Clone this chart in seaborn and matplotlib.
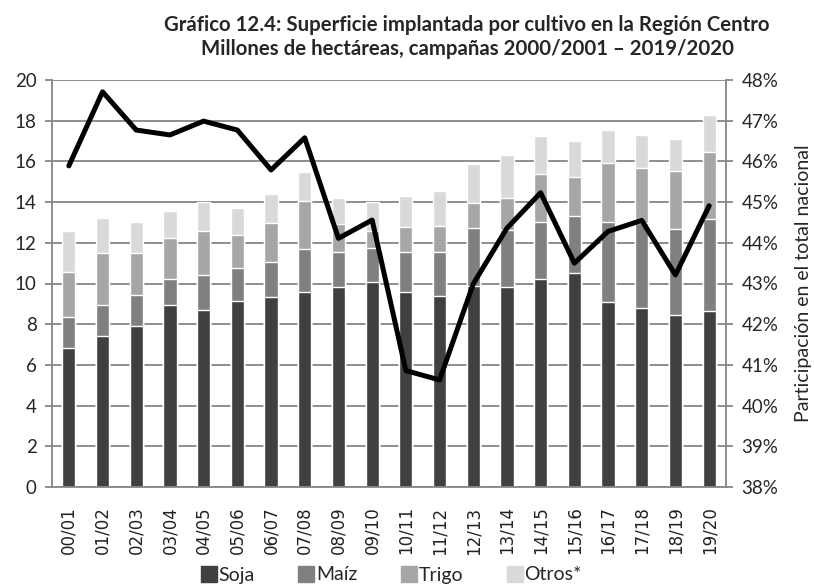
import numpy as np
import pandas as pd
import matplotlib
matplotlib.use("Agg")
import matplotlib.pyplot as plt
import seaborn as sns
from matplotlib.lines import Line2D
from matplotlib.ticker import FixedLocator, FuncFormatter

# campañas y superficie (millones de ha) por cultivo
campanas = ["00/01", "01/02", "02/03", "03/04", "04/05", "05/06", "06/07", "07/08", "08/09", "09/10",
            "10/11", "11/12", "12/13", "13/14", "14/15", "15/16", "16/17", "17/18", "18/19", "19/20"]
soja = [6.84, 7.44, 7.93, 8.92, 8.72, 9.16, 9.36, 9.60, 9.85, 10.09,
        9.60, 9.41, 9.88, 9.82, 10.21, 10.50, 9.11, 8.79, 8.46, 8.67]
maiz = [1.49, 1.48, 1.49, 1.32, 1.72, 1.62, 1.72, 2.11, 1.70, 1.67,
        1.94, 2.16, 2.87, 2.81, 2.80, 2.83, 3.93, 4.17, 4.21, 4.52]
trigo = [2.24, 2.60, 2.10, 2.00, 2.13, 1.61, 1.91, 2.33, 1.35, 0.84,
         1.26, 1.26, 1.19, 1.56, 2.37, 1.92, 2.90, 2.73, 2.87, 3.26]
otros = [2.01, 1.68, 1.50, 1.32, 1.43, 1.32, 1.41, 1.46, 1.30, 1.42,
         1.50, 1.72, 1.95, 2.12, 1.85, 1.74, 1.62, 1.59, 1.56, 1.83]
# participación en el total nacional (%)
participacion = [45.89, 47.71, 46.77, 46.65, 46.99, 46.77, 45.79, 46.58, 44.11, 44.56,
                 40.86, 40.63, 42.99, 44.36, 45.23, 43.50, 44.28, 44.55, 43.21, 44.91]

series = ["Soja", "Maíz", "Trigo", "Otros*"]
colores = ["#404040", "#808080", "#a6a6a6", "#d9d9d9"]

df = pd.DataFrame({"Campaña": campanas, "Soja": soja, "Maíz": maiz, "Trigo": trigo, "Otros*": otros})
acum = df[series].cumsum(axis=1)

sns.set_style("white")
plt.rcParams["font.family"] = ["Lato", "DejaVu Sans"]
gris = "#868686"

fig = plt.figure(figsize=(8.14, 5.84), dpi=100)
ax = fig.add_axes([52 / 814, 1 - 487 / 584, (726 - 52) / 814, (487 - 80) / 584])

# barras apiladas: se dibuja el acumulado de mayor a menor
for serie, color in reversed(list(zip(series, colores))):
    sns.barplot(x=df["Campaña"], y=acum[serie], color=color, width=0.39,
                saturation=1, errorbar=None, ax=ax, zorder=2)

ax.set_xlim(-0.5, len(campanas) - 0.5)
ax.set_ylim(0, 20)
ax.set_yticks(range(0, 21, 2))
ax.set_xlabel("")
ax.set_ylabel("")
ax.set_axisbelow(True)
ax.grid(axis="y", color=gris, lw=1.3)
for lado in ["left", "bottom", "right"]:
    ax.spines[lado].set_color(gris)
    ax.spines[lado].set_linewidth(1.3)
ax.spines["top"].set_visible(False)
ax.tick_params(axis="y", length=5, color=gris, width=1.3, labelsize=13.5, pad=6)
ax.tick_params(axis="x", which="major", length=0, labelsize=12, rotation=90, pad=14)
ax.xaxis.set_minor_locator(FixedLocator(np.arange(-0.5, len(campanas), 1.0)))
ax.tick_params(axis="x", which="minor", length=5, color=gris, width=1.3)
for t in ax.get_xticklabels():
    t.set_fontfamily("DejaVu Sans")
    t.set_color("#222222")

# línea de participación en el eje derecho
ax2 = ax.twinx()
sns.lineplot(x=campanas, y=participacion, sort=False, color="black", lw=3.6, ax=ax2, zorder=5)
ax2.set_ylim(38, 48)
ax2.set_yticks(range(38, 49))
ax2.yaxis.set_major_formatter(FuncFormatter(lambda v, p: f"{v:.0f}%"))
ax2.tick_params(axis="y", length=5, color=gris, width=1.3, labelsize=13.5, pad=6)
ax2.set_ylabel("Participación en el total nacional", fontsize=14, labelpad=12)
for lado in ["left", "bottom", "right", "top"]:
    ax2.spines[lado].set_visible(False)

fig.text(467 / 814, 1 - 25 / 584, "Gráfico 12.4: Superficie implantada por cultivo en la Región Centro",
         ha="center", va="center", fontsize=14.7, fontweight="bold")
fig.text(467 / 814, 1 - 49 / 584, "Millones de hectáreas, campañas 2000/2001 – 2019/2020",
         ha="center", va="center", fontsize=14.7, fontweight="bold")

handles = [Line2D([], [], marker="s", ls="", markersize=11, color=c) for c in colores]
fig.legend(handles, series, loc="center", bbox_to_anchor=(391 / 814, 1 - 575 / 584), ncol=4,
           frameon=False, fontsize=14, handletextpad=0.05, columnspacing=2.2, handlelength=0.9)

fig.savefig("out.png", dpi=100)
